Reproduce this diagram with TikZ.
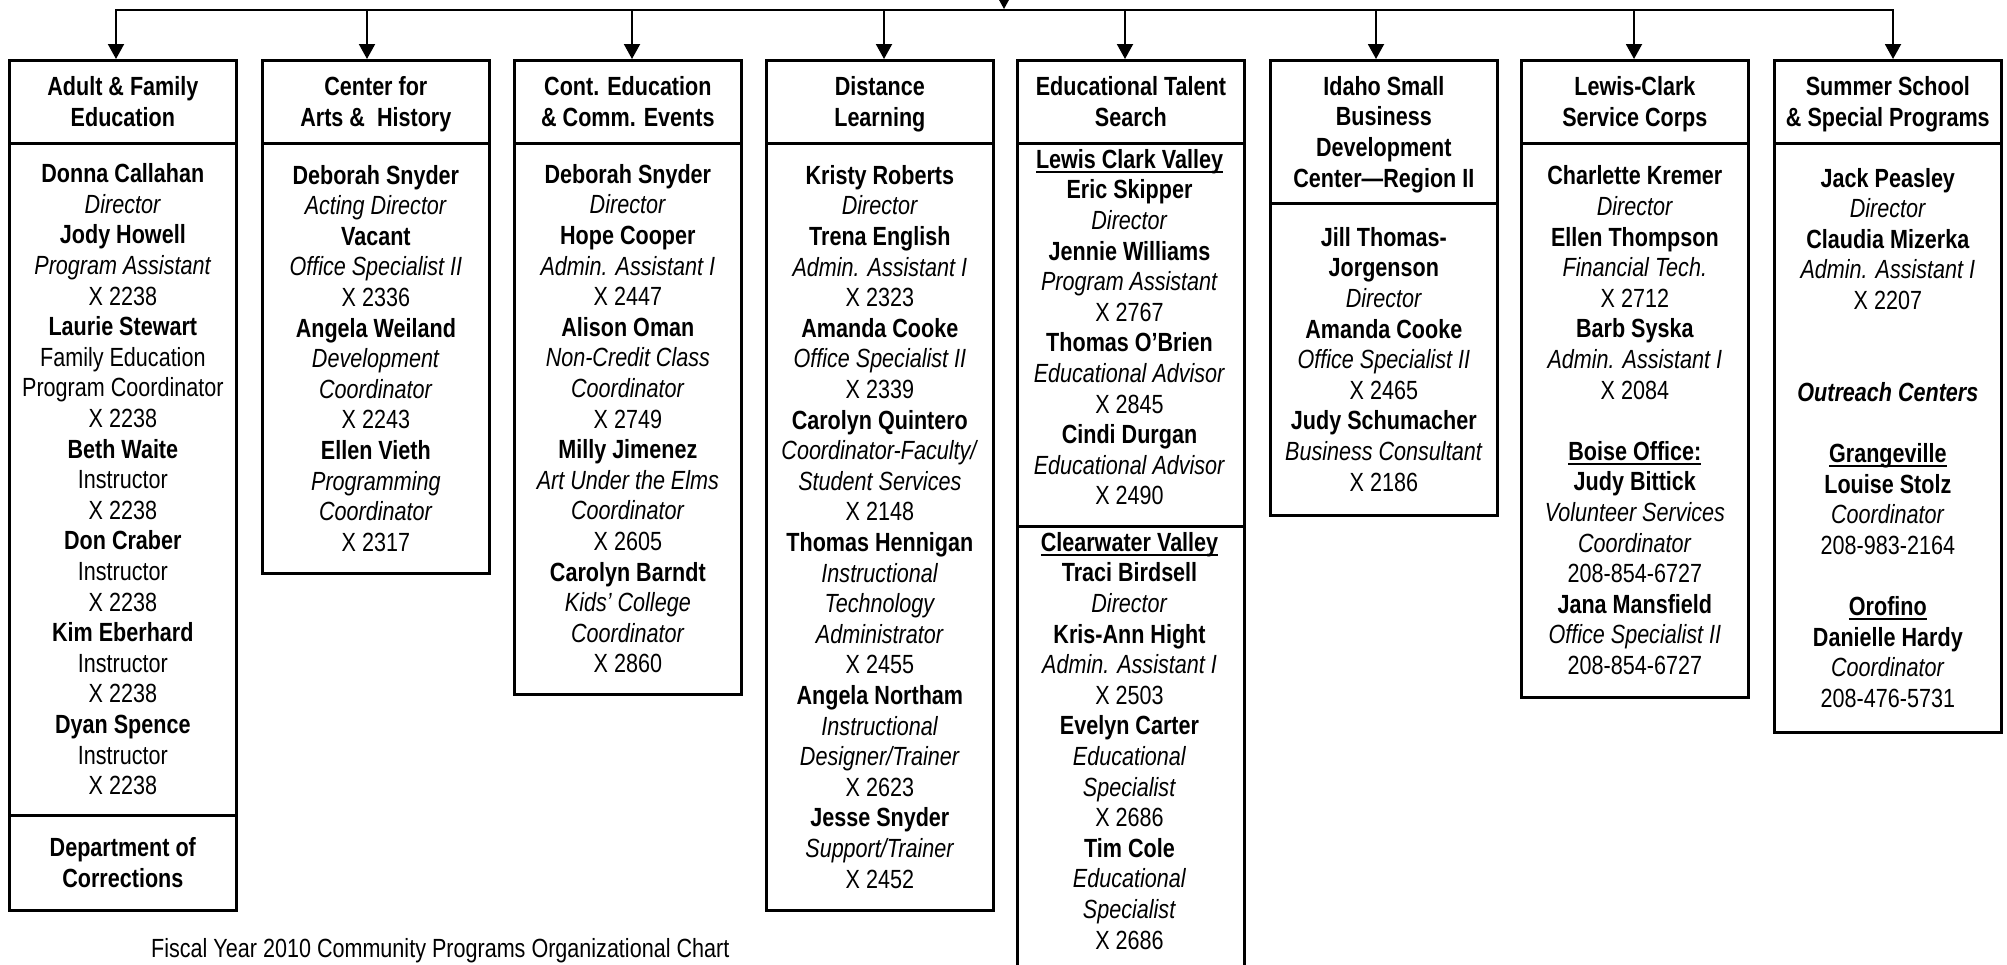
\documentclass[tikz,border=0pt]{standalone}
\usepackage{fontspec}
\setmainfont{Liberation Sans}[FakeStretch=0.82]
\usetikzlibrary{arrows.meta}
\newsavebox\pulbox
\newcommand\pst{\rule[-6pt]{0pt}{30.6pt}}
\newcommand\pnm[1]{\pst\textbf{#1}}
\newcommand\pti[1]{\pst\textit{#1}}
\newcommand\prg[1]{\pst#1}
\newcommand\pbi[1]{\pst\textbf{\textit{#1}}}
\newcommand\pul[1]{\pst\textbf{\sbox\pulbox{#1}\rlap{\rule[-4.5pt]{\wd\pulbox}{1.8pt}}\usebox\pulbox}}
\tikzset{
  box/.style={draw, line width=2.7pt, inner sep=0pt, minimum width=227pt, anchor=north west, align=center},
  txt/.style={inner sep=0pt, align=center},
  conn/.style={line width=2pt},
  arr/.style={conn, -{Triangle[length=15pt,width=16pt]}}
}
\begin{document}
\begin{tikzpicture}[x=1pt, y=-1pt, font=\fontsize{26.3}{30.6}\selectfont]
\useasboundingbox (0,0) rectangle (2007,964);
\clip (0,0) rectangle (2007,964);
\fill[white] (0,0) rectangle (2007,964);

% headers
\node[box, minimum height=83pt] (h1) at (8,59) {\pnm{Adult \& Family}\\\pnm{Education}};
\node[box, minimum height=83pt] (h2) at (261,59) {\pnm{Center for}\\\pnm{Arts \&\ \ History}};
\node[box, minimum height=83pt] (h3) at (513,59) {\pnm{Cont. Education}\\\pnm{\& Comm. Events}};
\node[box, minimum height=83pt] (h4) at (765,59) {\pnm{Distance}\\\pnm{Learning}};
\node[box, minimum height=83pt] (h5) at (1016,59) {\pnm{Educational Talent}\\\pnm{Search}};
\node[box, minimum height=143pt] (h6) at (1269,59) {\pnm{Idaho Small}\\\pnm{Business}\\\pnm{Development}\\\pnm{Center—Region II}};
\node[box, minimum height=83pt] (h7) at (1520,59) {\pnm{Lewis-Clark}\\\pnm{Service Corps}};
\node[box, minimum height=83pt] (h8) at (1773,59) {\pnm{Summer School}\\\pnm{\& Special Programs}};

% bodies
\node[box, minimum height=672pt] (s1) at (8,142) {\pnm{Donna Callahan}\\\pti{Director}\\\pnm{Jody Howell}\\\pti{Program Assistant}\\\prg{X 2238}\\\pnm{Laurie Stewart}\\\prg{Family Education}\\\prg{Program Coordinator}\\\prg{X 2238}\\\pnm{Beth Waite}\\\prg{Instructor}\\\prg{X 2238}\\\pnm{Don Craber}\\\prg{Instructor}\\\prg{X 2238}\\\pnm{Kim Eberhard}\\\prg{Instructor}\\\prg{X 2238}\\\pnm{Dyan Spence}\\\prg{Instructor}\\\prg{X 2238}};
\node[box, minimum height=95pt] (c1) at (8,814) {\pnm{Department of}\\\pnm{Corrections}};

\node[box, minimum height=430pt] (s2) at (261,142) {\pnm{Deborah Snyder}\\\pti{Acting Director}\\\pnm{Vacant}\\\pti{Office Specialist II}\\\prg{X 2336}\\\pnm{Angela Weiland}\\\pti{Development}\\\pti{Coordinator}\\\prg{X 2243}\\\pnm{Ellen Vieth}\\\pti{Programming}\\\pti{Coordinator}\\\prg{X 2317}};

\node[box, minimum height=551pt] (s3) at (513,142) {\pnm{Deborah Snyder}\\\pti{Director}\\\pnm{Hope Cooper}\\\pti{Admin. Assistant I}\\\prg{X 2447}\\\pnm{Alison Oman}\\\pti{Non-Credit Class}\\\pti{Coordinator}\\\prg{X 2749}\\\pnm{Milly Jimenez}\\\pti{Art Under the Elms}\\\pti{Coordinator}\\\prg{X 2605}\\\pnm{Carolyn Barndt}\\\pti{Kids' College}\\\pti{Coordinator}\\\prg{X 2860}};

\node[box, minimum height=767pt] (s4) at (765,142) {\pnm{Kristy Roberts}\\\pti{Director}\\\pnm{Trena English}\\\pti{Admin. Assistant I}\\\prg{X 2323}\\\pnm{Amanda Cooke}\\\pti{Office Specialist II}\\\prg{X 2339}\\\pnm{Carolyn Quintero}\\\pti{Coordinator-Faculty/}\\\pti{Student Services}\\\prg{X 2148}\\\pnm{Thomas Hennigan}\\\pti{Instructional}\\\pti{Technology}\\\pti{Administrator}\\\prg{X 2455}\\\pnm{Angela Northam}\\\pti{Instructional}\\\pti{Designer/Trainer}\\\prg{X 2623}\\\pnm{Jesse Snyder}\\\pti{Support/Trainer}\\\prg{X 2452}};

\node[box, minimum height=383pt] (s5) at (1016,142) {};
\node[txt, anchor=north] (t5) at (1129.5,143.4) {\pul{Lewis Clark Valley}\\\pnm{Eric Skipper}\\\pti{Director}\\\pnm{Jennie Williams}\\\pti{Program Assistant}\\\prg{X 2767}\\\pnm{Thomas O'Brien}\\\pti{Educational Advisor}\\\prg{X 2845}\\\pnm{Cindi Durgan}\\\pti{Educational Advisor}\\\prg{X 2490}};
\node[box, minimum height=470pt] (s5b) at (1016,525) {};
\node[txt, anchor=north] (t5b) at (1129.5,526.4) {\pul{Clearwater Valley}\\\pnm{Traci Birdsell}\\\pti{Director}\\\pnm{Kris-Ann Hight}\\\pti{Admin. Assistant I}\\\prg{X 2503}\\\pnm{Evelyn Carter}\\\pti{Educational}\\\pti{Specialist}\\\prg{X 2686}\\\pnm{Tim Cole}\\\pti{Educational}\\\pti{Specialist}\\\prg{X 2686}};

\node[box, minimum height=312pt] (s6) at (1269,202) {\pnm{Jill Thomas-}\\\pnm{Jorgenson}\\\pti{Director}\\\pnm{Amanda Cooke}\\\pti{Office Specialist II}\\\prg{X 2465}\\\pnm{Judy Schumacher}\\\pti{Business Consultant}\\\prg{X 2186}};

\node[box, minimum height=554pt] (s7) at (1520,142) {\pnm{Charlette Kremer}\\\pti{Director}\\\pnm{Ellen Thompson}\\\pti{Financial Tech.}\\\prg{X 2712}\\\pnm{Barb Syska}\\\pti{Admin. Assistant I}\\\prg{X 2084}\\\pst\\\pul{Boise Office:}\\\pnm{Judy Bittick}\\\pti{Volunteer Services}\\\pti{Coordinator}\\\prg{208-854-6727}\\\pnm{Jana Mansfield}\\\pti{Office Specialist II}\\\prg{208-854-6727}};

\node[box, minimum height=589pt] (s8) at (1773,142) {\pnm{Jack Peasley}\\\pti{Director}\\\pnm{Claudia Mizerka}\\\pti{Admin. Assistant I}\\\prg{X 2207}\\\pst\\\pst\\\pbi{Outreach Centers}\\\pst\\\pul{Grangeville}\\\pnm{Louise Stolz}\\\pti{Coordinator}\\\prg{208-983-2164}\\\pst\\\pul{Orofino}\\\pnm{Danielle Hardy}\\\pti{Coordinator}\\\prg{208-476-5731}};

% footer
\node[txt, anchor=base west] (foot) at (151,957) {Fiscal Year 2010 Community Programs Organizational Chart};

% connectors
\coordinate (top) at (1004,-20);
\coordinate (bus) at (1004,9);
\coordinate (b1) at (116,10);
\coordinate (b2) at (367,10);
\coordinate (b3) at (632,10);
\coordinate (b4) at (884,10);
\coordinate (b5) at (1125,10);
\coordinate (b6) at (1376,10);
\coordinate (b7) at (1634,10);
\coordinate (b8) at (1893,10);
\draw[conn, line cap=rect] (b1) -- (b8);
\draw[arr] (top) -- (bus);
\foreach \i in {1,...,8} {
  \draw[arr] (b\i) -- (b\i |- h\i.north);
}
\end{tikzpicture}
\end{document}
